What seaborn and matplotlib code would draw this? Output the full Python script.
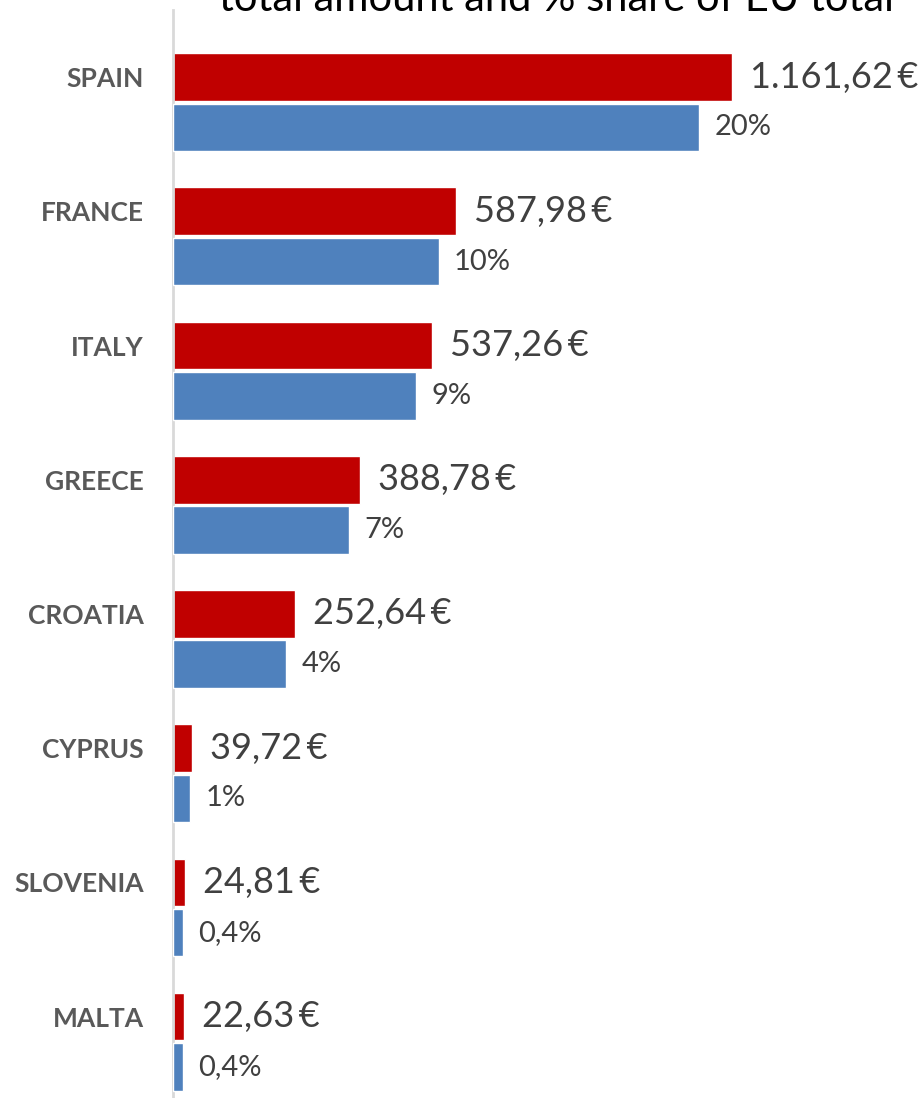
import matplotlib
matplotlib.use("Agg")
from matplotlib import pyplot as plt
import numpy as np
import pandas as pd
import seaborn as sns

# values
countries = ["SPAIN", "FRANCE", "ITALY", "GREECE", "CROATIA", "CYPRUS", "SLOVENIA", "MALTA"]
amounts = [1161.62, 587.98, 537.26, 388.78, 252.64, 39.72, 24.81, 22.63]
amount_labels = ["1.161,62\u2009€", "587,98\u2009€", "537,26\u2009€", "388,78\u2009€",
                 "252,64\u2009€", "39,72\u2009€", "24,81\u2009€", "22,63\u2009€"]
shares = [20.0, 10.1, 9.25, 6.7, 4.3, 0.65, 0.38, 0.37]
share_labels = ["20%", "10%", "9%", "7%", "4%", "1%", "0,4%", "0,4%"]

df = pd.DataFrame({"country": countries, "amount": amounts, "share": shares})

sns.set_style("white")
plt.rcParams["font.family"] = ["Lato", "DejaVu Sans"]

RED = "#C00000"
BLUE = "#4F81BD"
GREY = "#D9D9D9"
TXT = "#404040"

fig = plt.figure(figsize=(9.22, 10.98), dpi=100)
ax = fig.add_axes([173 / 922, 0, 1 - 173 / 922, 1088 / 1098])

bar_h = 0.355
offset = 0.375

sns.barplot(data=df, y="country", x="amount", color=RED, width=bar_h,
            saturation=1, ax=ax, orient="h")
ax.set_xlim(0, 749 / 0.4812)

ax2 = ax.twiny()
sns.barplot(data=df, y="country", x="share", color=BLUE, width=bar_h,
            saturation=1, ax=ax2, orient="h")
# blue bars sit just under the red ones
for p in ax2.patches:
    p.set_y(p.get_y() + offset)
ax2.set_xlim(0, 749 / 26.3)

ax.bar_label(ax.containers[0], labels=amount_labels, padding=13,
             fontsize=26, color=TXT)
ax2.bar_label(ax2.containers[0], labels=share_labels, padding=11,
              fontsize=21, color=TXT)

ax.set_ylim(7.607, -0.5)
ax2.set_ylim(7.607, -0.5)

for s in ["top", "right", "bottom"]:
    ax.spines[s].set_visible(False)
    ax2.spines[s].set_visible(False)
ax2.spines["left"].set_visible(False)
ax.spines["left"].set_color(GREY)
ax.spines["left"].set_linewidth(2)

ax.set_xticks([])
ax2.set_xticks([])
ax.set_xlabel("")
ax2.set_xlabel("")
ax.set_ylabel("")
ax2.set_ylabel("")

ax.set_yticks(range(len(countries)))
ax.set_yticklabels(countries, fontsize=19, fontweight="bold", color="#595959")
ax.tick_params(axis="y", which="major", length=0, pad=21)
ax.set_yticks(np.arange(-0.5, len(countries), 1), minor=True)
ax.tick_params(axis="y", which="minor", length=7, width=1.5, color=GREY)
ax2.tick_params(axis="y", length=0)

# second line of the title, cropped at the top like the original
fig.text(556 / 922, 1 - 11 / 1098, "total amount and % share of EU total",
         ha="center", va="baseline", fontsize=30, color="black")

fig.savefig("out.png", dpi=100)
